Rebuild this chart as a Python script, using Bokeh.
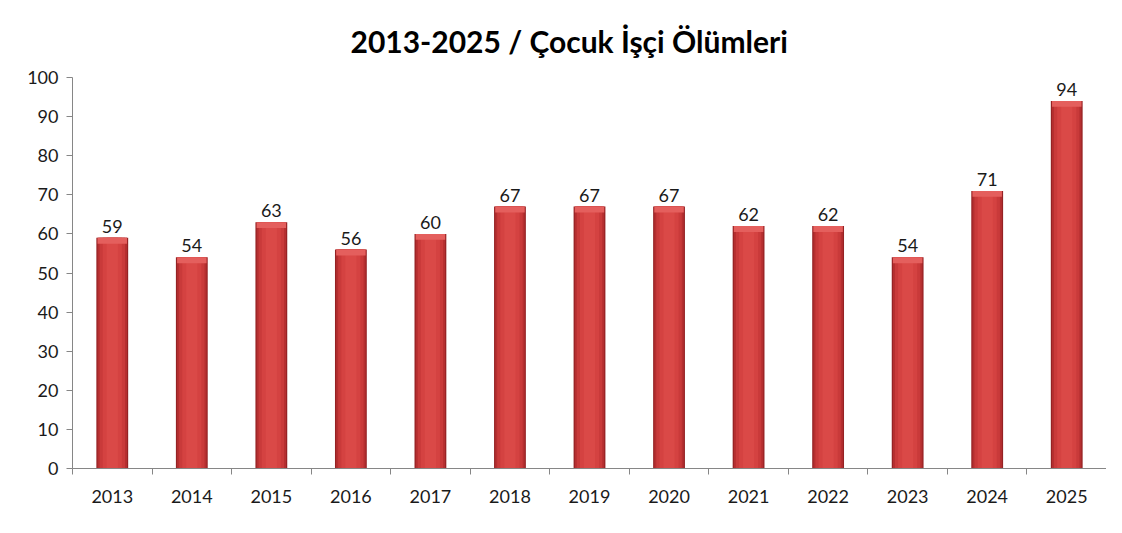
from bokeh.plotting import figure
from bokeh.models import FixedTicker, Range1d, ColumnDataSource, LabelSet
from bokeh.core.properties import value
from bokeh.embed import file_html
from bokeh.resources import INLINE

years = ["2013", "2014", "2015", "2016", "2017", "2018", "2019",
         "2020", "2021", "2022", "2023", "2024", "2025"]
deaths = [59, 54, 63, 56, 60, 67, 67, 67, 62, 62, 54, 71, 94]
y_ticks = [0, 10, 20, 30, 40, 50, 60, 70, 80, 90, 100]
title_text = "2013-2025 / Çocuk İşçi Ölümleri"

FONT = "Lato"
n = len(years)
centers = [i + 0.5 for i in range(n)]
bounds = [i for i in range(n + 1)]

p = figure(width=1106, height=517, output_backend="svg", toolbar_location=None,
           x_range=Range1d(0, n), y_range=Range1d(0, 100),
           min_border_left=72, min_border_right=0, min_border_top=77,
           min_border_bottom=49)
p.title.text = title_text
p.title.align = "left"
p.title.offset = 278
p.title.vertical_align = "bottom"
p.title.text_font = FONT
p.title.text_font_size = "30px"
p.title.text_font_style = "bold"
p.title.text_color = "#000000"
p.title.standoff = 38
p.outline_line_color = None
p.grid.visible = False
p.background_fill_color = "white"
p.border_fill_color = "white"

src = ColumnDataSource(dict(x=centers, top=deaths, lab=[str(v) for v in deaths],
                            cap=[v - 1.5 for v in deaths]))

# layered bar shading (dark edges, lighter centre)
layers = [(0.40, "#952224"), (0.37, "#b52f30"), (0.32, "#c93a3a"),
          (0.24, "#d44241"), (0.14, "#da4947")]
for w, c in layers:
    p.vbar(x="x", top="top", bottom=0, width=w, source=src, fill_color=c, line_color=None)
# top bevel
p.vbar(x="x", top="top", bottom="cap", width=0.37, source=src,
       fill_color="#e45f5d", line_color=None)

labels = LabelSet(x="x", y="top", text="lab", source=src, text_align="center",
                  text_baseline="bottom", y_offset=5, text_font=value(FONT),
                  text_font_size="18px", text_color="#1a1a1a")
p.add_layout(labels)

# y axis
ya = p.yaxis[0]
ya.ticker = FixedTicker(ticks=y_ticks)
ya.axis_line_color = "#868686"
ya.major_tick_line_color = "#868686"
ya.major_tick_out = 6
ya.major_tick_in = 0
ya.minor_tick_line_color = None
ya.major_label_text_font = FONT
ya.major_label_text_font_size = "18px"
ya.major_label_text_color = "#1a1a1a"
ya.major_label_standoff = 8

# x axis
xa = p.xaxis[0]
xa.ticker = FixedTicker(ticks=centers, minor_ticks=bounds)
xa.major_label_overrides = {c: y for c, y in zip(centers, years)}
xa.axis_line_color = "#868686"
xa.major_tick_line_color = None
xa.major_tick_out = 0
xa.major_tick_in = 0
xa.minor_tick_line_color = "#868686"
xa.minor_tick_out = 6
xa.minor_tick_in = 0
xa.major_label_text_font = FONT
xa.major_label_text_font_size = "18px"
xa.major_label_text_color = "#1a1a1a"
xa.major_label_standoff = 15

open("out.html", "w").write(file_html(p, INLINE))
